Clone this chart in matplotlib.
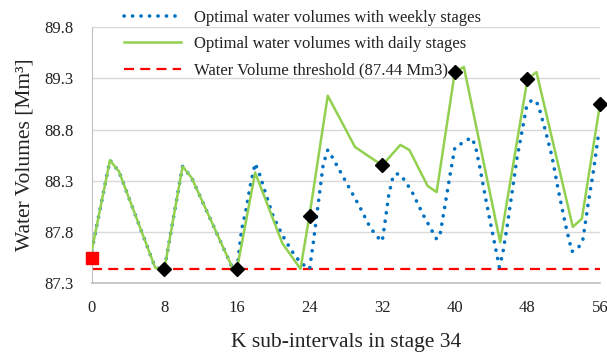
import matplotlib
matplotlib.use("Agg")
import matplotlib.pyplot as plt

plt.rcParams['font.family'] = ['Liberation Serif', 'DejaVu Serif']

# Optimal water volumes with weekly stages (blue dotted)
weekly_k = [0, 2, 3, 7, 8, 10, 11, 15.5, 16, 16.5, 17, 17.5, 18, 18.5, 19, 20, 21, 22, 23, 24,
            24.4, 25, 25.5, 26, 26.5, 27.5, 28.5, 29.5, 30.7, 31.5, 32, 32.3, 32.7, 33.1, 33.5,
            34, 34.5, 35.3, 36.5, 37.5, 38, 38.4, 38.9, 39.5, 40, 41, 41.8, 42.25, 42.8, 43.35,
            43.9, 44.45, 44.9, 45.26, 45.74, 46.3, 46.85, 47.4, 47.9, 48.4, 48.75, 49.2, 49.95,
            50.7, 51.4, 52.2, 52.9, 53.57, 54.1, 54.7, 55.3, 55.8, 56]
weekly_v = [87.62, 88.50, 88.39, 87.45, 87.44, 88.44, 88.33, 87.45, 87.44, 87.82, 88.02, 88.27,
            88.47, 88.36, 88.22, 87.95, 87.77, 87.62, 87.50, 87.44,
            87.69, 88.11, 88.46, 88.60, 88.53, 88.37, 88.21, 88.05, 87.84, 87.75, 87.71, 87.89,
            88.15, 88.31, 88.37, 88.36, 88.30, 88.19, 87.97, 87.81, 87.73, 87.79, 88.05, 88.37,
            88.62, 88.68, 88.72, 88.65, 88.41, 88.15, 87.90, 87.66, 87.46, 87.58, 87.84, 88.18,
            88.52, 88.78, 89.02, 89.08, 89.09, 89.04, 88.80, 88.54, 88.21, 87.87, 87.61, 87.64,
            87.72, 88.08, 88.41, 88.73, 88.76]

# Optimal water volumes with daily stages (green)
daily_k = [0, 2, 3, 7, 8, 10, 11, 15.5, 16, 18, 21, 23, 24, 26, 29, 32, 34, 35, 37, 38,
           40, 41, 45, 48, 49, 53, 54, 56]
daily_v = [87.62, 88.50, 88.39, 87.45, 87.44, 88.44, 88.33, 87.45, 87.44, 88.38, 87.69, 87.44,
           87.97, 89.13, 88.63, 88.45, 88.65, 88.60, 88.25, 88.19, 89.36, 89.41, 87.70, 89.29,
           89.36, 87.85, 87.93, 89.05]

threshold = 87.44
daily_marker_k = [8, 16, 24, 32, 40, 48, 56]
daily_marker_v = [87.44, 87.44, 87.96, 88.45, 89.36, 89.29, 89.05]
start_k = [0]
start_v = [87.55]

xticks = [0, 8, 16, 24, 32, 40, 48, 56]
yticks = [87.3, 87.8, 88.3, 88.8, 89.3, 89.8]

fig = plt.figure(figsize=(6.07, 3.52), dpi=100)
ax = fig.add_axes([0.1512, 0.1952, 0.8373, 0.7281])

for y in yticks[1:]:
    ax.axhline(y, color='#d9d9d9', lw=1.0, zorder=0)

l1, = ax.plot(weekly_k, weekly_v, color='#0070C0', lw=2.6, linestyle=(0, (0.05, 2.3)),
              dash_capstyle='round', label='Optimal water volumes with weekly stages', zorder=3)
l2, = ax.plot(daily_k, daily_v, color='#92D050', lw=1.8,
              label='Optimal water volumes with daily stages', zorder=4)
l3, = ax.plot([0, 56], [threshold, threshold], color='#FF0000', lw=1.6,
              linestyle=(0, (4.5, 2.8)), label='Water Volume threshold (87.44 Mm3)', zorder=2)
ax.plot(daily_marker_k, daily_marker_v, linestyle='none', marker='D', color='black',
        markersize=7.5, zorder=5, clip_on=False)
ax.plot(start_k, start_v, linestyle='none', marker='s', color='#FF0000',
        markersize=8, zorder=5, clip_on=False)

ax.set_xlim(0, 56)
ax.set_ylim(87.3, 89.8)
ax.set_xticks(xticks)
ax.set_yticks(yticks)
ax.set_yticklabels([f"{v:.1f}" for v in yticks])
ax.tick_params(length=0, labelsize=12, colors='#222222')
ax.tick_params(axis='x', pad=12)
ax.tick_params(axis='y', pad=13)
for s in ['top', 'right']:
    ax.spines[s].set_visible(False)
ax.spines['left'].set_color('#bfbfbf')
ax.spines['bottom'].set_color('#bfbfbf')
ax.spines['bottom'].set_linewidth(1.2)

ax.set_xlabel('K sub-intervals in stage 34', fontsize=15.5, color='#222222', labelpad=12)
ax.set_ylabel('Water Volumes [Mm³]', fontsize=15.5, color='#222222', labelpad=7)

leg = fig.legend(handles=[l1, l2, l3], loc='upper left', bbox_to_anchor=(0.18, 1.015),
                 frameon=False, fontsize=12, handlelength=3.4, handletextpad=0.8,
                 labelspacing=0.62)
for t in leg.get_texts():
    t.set_color('#222222')

fig.savefig('out.png', dpi=100)
